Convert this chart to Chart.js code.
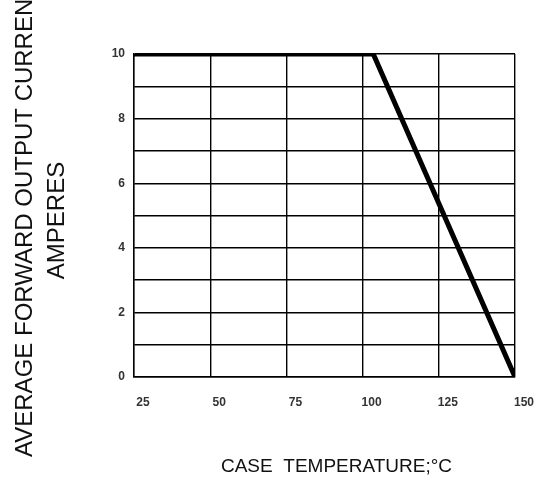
<!DOCTYPE html>
<html>
<head>
<meta charset="utf-8">
<script src="https://cdn.jsdelivr.net/npm/chart.js@4"></script>
<style>
  body { margin: 0; background: #fff; }
  #wrap { width: 547px; height: 481px; }
</style>
</head>
<body>
<div id="wrap"><canvas id="derating" width="547" height="481"></canvas></div>
<script>
// derating curve
const caseTemp = [25, 103.5, 150];
const avgCurrent = [10, 10, 0];
const xTicks = [25, 50, 75, 100, 125, 150];
const yTicks = [0, 1, 2, 3, 4, 5, 6, 7, 8, 9, 10];
const yLabelled = [0, 2, 4, 6, 8, 10];
const yTitle = ["AVERAGE FORWARD OUTPUT CURRENT", "AMPERES"];
const xTitle = "CASE  TEMPERATURE;\u00B0C";

const FONT = "'Liberation Sans', Arial, sans-serif";

// axis titles drawn by hand so the long one is not squeezed
const axisTitles = {
  id: "axisTitles",
  afterDraw(chart) {
    const ctx = chart.ctx;
    const area = chart.chartArea;
    ctx.save();
    ctx.fillStyle = "#111";
    ctx.font = "24px " + FONT;
    ctx.textAlign = "center";
    ctx.textBaseline = "middle";
    const cy = (area.top + area.bottom) / 2 + 5;
    yTitle.forEach((t, i) => {
      ctx.save();
      ctx.translate(25 + i * 32, cy);
      ctx.rotate(-Math.PI / 2);
      ctx.fillText(t, 0, 0);
      ctx.restore();
    });
    ctx.font = "19px " + FONT;
    ctx.fillText(xTitle, (area.left + area.right) / 2 + 12, 467);
    ctx.restore();
  },
};

const ctx = document.getElementById("derating").getContext("2d");
window.deratingChart = new Chart(ctx, {
  type: "line",
  data: {
    datasets: [
      {
        data: caseTemp.map((t, i) => ({ x: t, y: avgCurrent[i] })),
        borderColor: "#000",
        borderWidth: 5,
        borderCapStyle: "round",
        pointRadius: 0,
        fill: false,
        tension: 0,
      },
    ],
  },
  options: {
    responsive: false,
    animation: false,
    layout: { padding: { left: 0, top: 54, right: 32, bottom: 0 } },
    plugins: {
      legend: { display: false },
      tooltip: { enabled: false },
    },
    scales: {
      x: {
        type: "linear",
        min: 25,
        max: 150,
        afterBuildTicks: (s) => { s.ticks = xTicks.map((v) => ({ value: v })); },
        afterFit: (s) => { s.height = 104; },
        grid: { color: "#000", lineWidth: 1.4, drawTicks: false },
        border: { color: "#000", width: 1.4 },
        ticks: {
          padding: 18,
          labelOffset: 9,
          color: "#333",
          font: { family: FONT, size: 12, weight: "bold" },
        },
      },
      y: {
        min: 0,
        max: 10,
        afterBuildTicks: (s) => { s.ticks = yTicks.map((v) => ({ value: v })); },
        afterFit: (s) => { s.width = 134; },
        grid: { color: "#000", lineWidth: 1.4, drawTicks: false },
        border: { color: "#000", width: 1.4 },
        ticks: {
          padding: 9,
          color: "#333",
          font: { family: FONT, size: 12, weight: "bold" },
          callback: (v) => (yLabelled.includes(v) ? String(v) : ""),
        },
      },
    },
  },
  plugins: [axisTitles],
});
</script>
</body>
</html>
